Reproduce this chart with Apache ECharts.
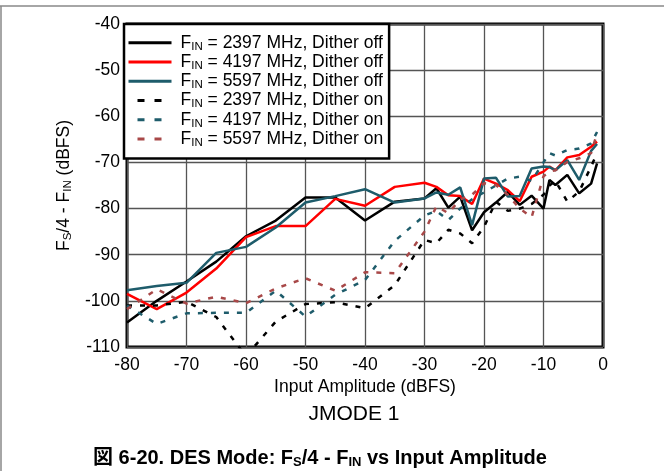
<!DOCTYPE html>
<html>
<head>
<meta charset="utf-8">
<script src="https://cdn.jsdelivr.net/npm/echarts@6/dist/echarts.min.js"></script>
<style>
  html, body { margin: 0; padding: 0; background: #fff; }
  #chart { width: 664px; height: 471px; }
</style>
</head>
<body>
<div id="chart"></div>
<script>
    // input amplitude (dBFS)
    const inputAmp = [-80, -75, -70, -65, -60, -55, -50, -45, -40, -35, -30, -28, -26, -24, -22, -20, -18, -16, -14, -12, -10, -9, -8, -6, -4, -2, -1];

    // Fs/4 - Fin (dBFS)
    const fin2397Off = [-104.7, -100, -95.8, -91.5, -86, -82.6, -77.6, -77.6, -82.6, -78.5, -77.8, -75.6, -79.8, -77.4, -84.7, -80.8, -78.7, -76.4, -79.2, -77.2, -80, -73.8, -74.9, -72.7, -76.7, -74.6, -70.2];
    const fin4197Off = [-98.5, -101.8, -98.2, -93, -86.2, -83.8, -83.8, -77.9, -79.4, -75.3, -74.4, -75.3, -77.1, -77.3, -79, -73.5, -74.6, -76, -78.4, -73.1, -72, -70.9, -71.7, -68.9, -68.4, -66.6, -65.5];
    const fin5597Off = [-97.7, -96.8, -96.1, -89.6, -88.3, -84.1, -78.7, -77.3, -75.8, -78.7, -77.8, -76.5, -77, -75.4, -83.6, -73.5, -73.3, -77.4, -77.3, -71.3, -70.9, -71, -71.7, -69.5, -73.8, -67.5, -66];
    const fin2397On = [-101, -101, -100.2, -103.5, -112, -104.5, -100.7, -100.3, -101.6, -96.6, -86.8, -87.5, -84.6, -85.4, -87.5, -84, -78.5, -80.5, -80, -79, -77, -75, -74, -78.5, -76.3, -70.9, -68];
    const fin4197On = [-101, -105, -102.7, -102.6, -102.6, -97.8, -103.4, -98.7, -95.5, -87, -81.5, -80.5, -82.5, -80, -78, -76.5, -75, -73.5, -73.1, -74, -70, -68, -68.5, -67.3, -67, -65.9, -63.4];
    const fin5597On = [-101.8, -97.5, -100.6, -99.1, -100.5, -97.3, -95.1, -97.8, -93.8, -94, -85, -79.5, -81, -78, -77, -74.5, -74.9, -77, -80, -81.9, -73, -72, -71.7, -69.9, -69.1, -68, -63.7];

    const seriesNames = [
        'FIN = 2397 MHz, Dither off',
        'FIN = 4197 MHz, Dither off',
        'FIN = 5597 MHz, Dither off',
        'FIN = 2397 MHz, Dither on',
        'FIN = 4197 MHz, Dither on',
        'FIN = 5597 MHz, Dither on'
    ];
    const seriesValues = [fin2397Off, fin4197Off, fin5597Off, fin2397On, fin4197On, fin5597On];
    const seriesColors = ['#000000', '#ff0000', '#1e5c6b', '#000000', '#1e5c6b', '#a84848'];
    const seriesDashed = [false, false, false, true, true, true];

    const font = '"Liberation Sans", Arial, "Noto Sans CJK JP", sans-serif';

    const myChart = echarts.init(document.getElementById('chart'));

    const series = seriesNames.map((name, i) => ({
        name: name,
        type: 'line',
        symbol: 'none',
        clip: true,
        data: inputAmp.map((x, k) => [x, seriesValues[i][k]]),
        lineStyle: {
            color: seriesColors[i],
            width: 2.5,
            type: seriesDashed[i] ? [5, 8] : 'solid'
        },
        itemStyle: { color: seriesColors[i] }
    }));

    // legend shows only two dashes for the dithered curves
    const legendData = seriesNames.map((name, i) => seriesDashed[i]
        ? { name: name, lineStyle: { type: [7, 10], dashOffset: 8 } }
        : { name: name });

    const legendRich = {
        f: { fontSize: 17.5, color: '#000', fontFamily: font, lineHeight: 19, padding: [0, 0, 0, 4] },
        n: { fontSize: 17.5, color: '#000', fontFamily: font, lineHeight: 19 },
        s: { fontSize: 11.5, color: '#000', fontFamily: font, lineHeight: 19, verticalAlign: 'bottom', padding: [6, 0, 0, 0] }
    };
    const nameRich = {
        n: { fontSize: 17.5, color: '#000', fontFamily: font, lineHeight: 20 },
        s: { fontSize: 11.5, color: '#000', fontFamily: font, lineHeight: 20, verticalAlign: 'bottom', padding: [6, 0, 0, 0] }
    };

    myChart.setOption({
        backgroundColor: '#fff',
        animation: false,
        grid: {
            left: 127,
            right: 61,
            top: 24,
            bottom: 124,
            show: true,
            borderColor: '#000',
            borderWidth: 3
        },
        legend: {
            orient: 'vertical',
            left: 124,
            top: 24,
            itemWidth: 43,
            itemHeight: 14,
            itemGap: 1,
            padding: [10, 6, 10, 3],
            backgroundColor: '#fff',
            borderColor: '#000',
            borderWidth: 2.5,
            borderRadius: 0,
            itemStyle: { opacity: 0 },
            lineStyle: { width: 3 },
            data: legendData,
            formatter: name => '{f|F}{s|IN}{n|' + name.slice(3) + '}',
            textStyle: { rich: legendRich, fontFamily: font, fontSize: 17.5, color: '#000' }
        },
        xAxis: {
            type: 'value',
            min: -80,
            max: 0,
            interval: 10,
            name: 'Input Amplitude (dBFS)',
            nameLocation: 'middle',
            nameGap: 29,
            nameTextStyle: { fontFamily: font, fontSize: 17.5, color: '#000' },
            axisLine: { show: false },
            axisTick: { show: false },
            axisLabel: { fontFamily: font, fontSize: 17.5, color: '#000', margin: 9 },
            splitLine: { lineStyle: { color: '#555', width: 1.3 } }
        },
        yAxis: {
            type: 'value',
            min: -110,
            max: -40,
            interval: 10,
            name: '{n|F}{s|S}{n|/4 - F}{s|IN}{n| (dBFS)}',
            nameLocation: 'middle',
            nameGap: 53,
            nameRotate: 90,
            nameTextStyle: { rich: nameRich, fontFamily: font, fontSize: 17.5, color: '#000' },
            axisLine: { show: false },
            axisTick: { show: false },
            axisLabel: { fontFamily: font, fontSize: 17.5, color: '#000', margin: 7 },
            splitLine: { lineStyle: { color: '#555', width: 1.3 } }
        },
        graphic: [
            {
                type: 'line',
                shape: { x1: 0, y1: 6, x2: 664, y2: 6 },
                style: { stroke: '#888', lineWidth: 1.5 }
            },
            {
                type: 'line',
                shape: { x1: 1, y1: 6, x2: 1, y2: 471 },
                style: { stroke: '#888', lineWidth: 1.5 }
            },
            {
                type: 'text',
                x: 354,
                y: 414,
                style: {
                    text: 'JMODE 1',
                    fontFamily: font,
                    fontSize: 21,
                    fill: '#000',
                    align: 'center',
                    verticalAlign: 'middle'
                }
            },
            {
                type: 'text',
                x: 320,
                y: 458,
                style: {
                    text: '{b|図 6-20. DES Mode: F}{bs|S}{b|/4 - F}{bs|IN}{b| vs Input Amplitude}',
                    align: 'center',
                    verticalAlign: 'middle',
                    rich: {
                        b: { fontFamily: font, fontSize: 20, fontWeight: 'bold', fill: '#000', color: '#000', lineHeight: 22 },
                        bs: { fontFamily: font, fontSize: 13, fontWeight: 'bold', fill: '#000', color: '#000', lineHeight: 22, verticalAlign: 'bottom', padding: [7, 0, 0, 0] }
                    }
                }
            }
        ],
        series: series
    });
</script>
</body>
</html>
